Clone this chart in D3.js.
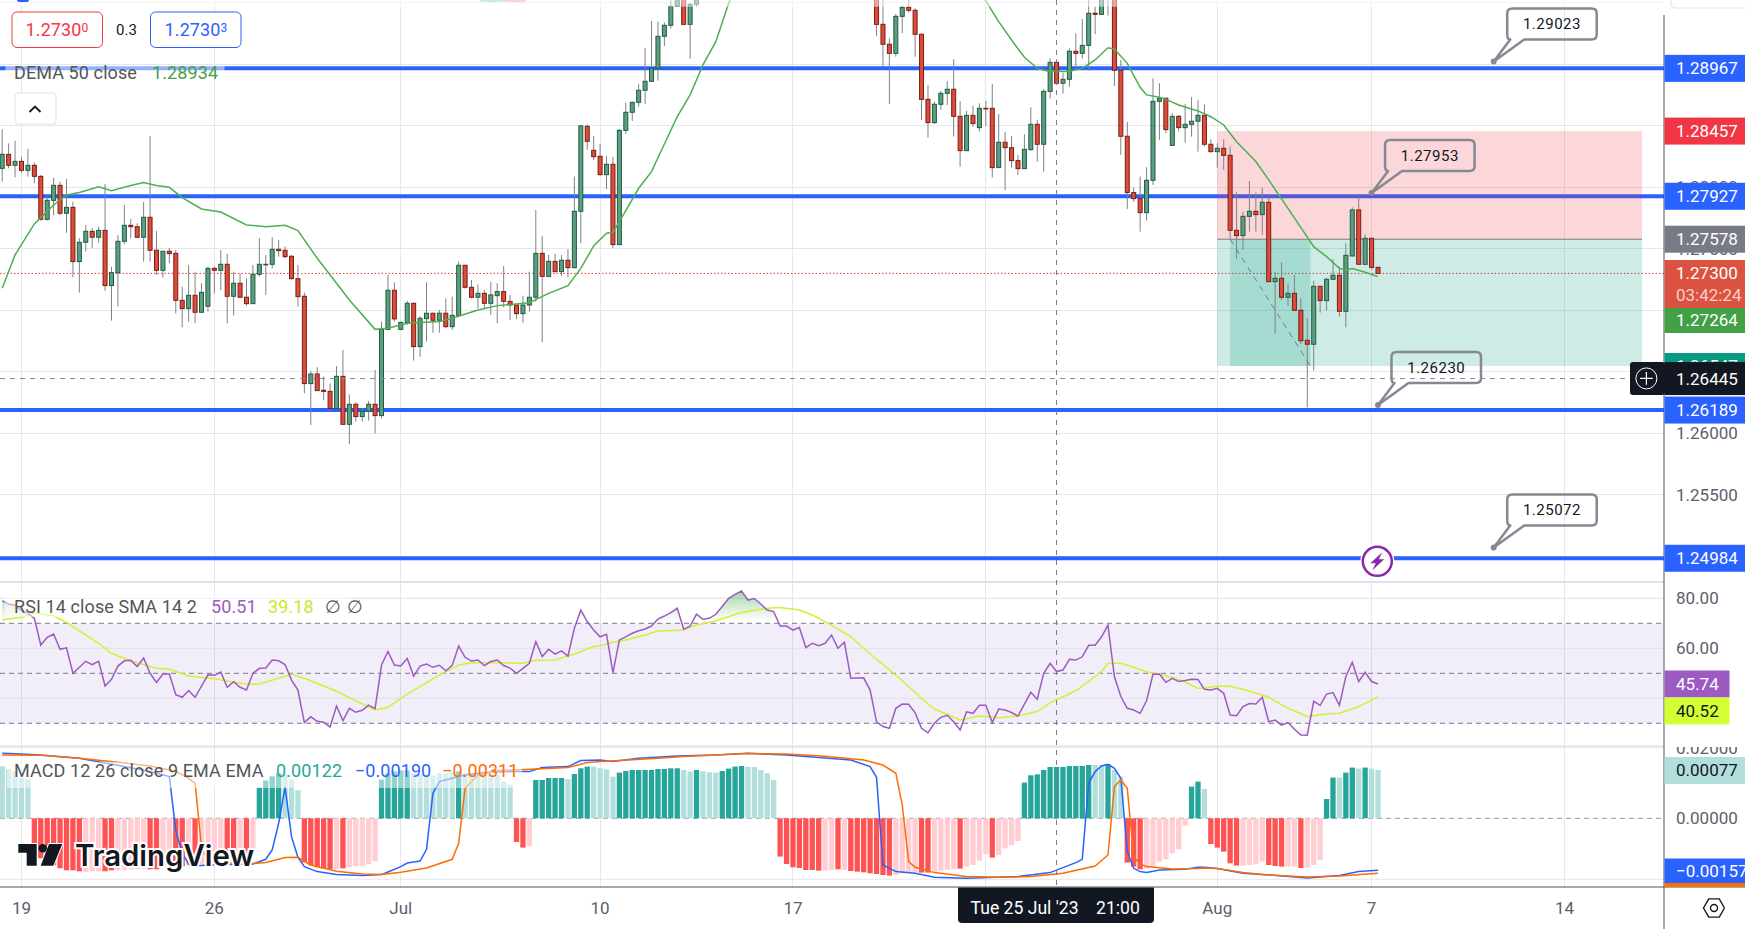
<!DOCTYPE html>
<html>
<head>
<meta charset="utf-8">
<title>GBPUSD 4h</title>
<script src="https://cdn.jsdelivr.net/npm/d3@7/dist/d3.min.js"></script>
<style>
  html, body { margin: 0; padding: 0; background: #fff; overflow: hidden; }
  svg { display: block; font-family: Roboto, "Liberation Sans", sans-serif; }
</style>
</head>
<body>
<div id="chart"></div>
<script>
// candles, one value per 4h bar. bars 109-135 sit above the visible range
var opens = [
  1.28154,1.28268,1.28179,1.28211,1.28138,1.28179,1.28089,1.27740,1.27894,1.28016,
  1.27789,1.27837,1.27396,1.27553,1.27642,1.27594,1.27650,1.27201,1.27306,1.27561,
  1.27691,1.27680,1.27594,1.27756,1.27488,1.27325,1.27480,1.27463,1.27081,1.27014,
  1.27122,1.26984,1.27033,1.27341,1.27325,1.27374,1.27114,1.27220,1.27106,1.27054,
  1.27293,1.27371,1.27374,1.27496,1.27488,1.27439,1.27257,1.27114,1.26404,1.26482,
  1.26350,1.26341,1.26201,1.26463,1.26073,1.26236,1.26136,1.26179,1.26236,1.26144,
  1.26845,1.27163,1.26845,1.26900,1.27057,1.26705,1.26932,1.26976,1.26919,1.26976,
  1.26867,1.26959,1.27366,1.27187,1.27106,1.27138,1.27057,1.27119,1.27152,1.27073,
  1.27043,1.26973,1.27043,1.27106,1.27463,1.27276,1.27398,1.27314,1.27407,1.27347,
  1.27805,1.28496,1.28301,1.28252,1.28103,1.28187,1.27534,1.28463,1.28610,1.28691,
  1.28789,1.28862,1.28967,1.29228,1.29317,1.29472,1.29550,1.29325,1.29488,
  1.29560,1.2965,1.2985,1.2990,1.3010,1.3025,1.3020,1.3035,1.3050,1.3070,1.3085,1.3105,1.3120,1.3125,
  1.3110,1.3095,1.3100,1.3080,1.3060,1.3040,1.3030,1.3045,1.3050,1.3030,1.3015,1.3000,1.2985,
  1.29560,1.29325,1.29163,1.29089,1.29390,1.29463,1.29439,1.29244,1.28715,1.28526,
  1.28675,1.28764,1.28797,1.28577,1.28298,1.28585,1.28485,1.28642,1.28642,1.28160,
  1.28366,1.28322,1.28217,1.28152,1.28306,1.28512,1.28350,1.28780,1.29016,1.28846,
  1.28878,1.29106,1.29089,1.29154,1.29415,1.29406,1.29560,1.29580,1.28951,1.28415,
  1.27957,1.27908,1.27794,1.28057,1.28699,1.28724,1.28341,1.28577,1.28485,1.28512,
  1.28537,1.28585,1.28350,1.28290,1.28317,1.28260,1.27650,1.27607,1.27764,1.27805,
  1.27778,1.27878,1.27233,1.27260,1.27106,1.27138,1.27000,1.26756,1.26724,1.27195,
  1.27079,1.27252,1.27284,1.26992,1.27442,1.27816,1.27374,1.27585,1.27349
];
var closes = [
  1.28268,1.28179,1.28211,1.28138,1.28179,1.28089,1.27740,1.27894,1.28016,1.27789,
  1.27837,1.27396,1.27553,1.27642,1.27594,1.27650,1.27201,1.27306,1.27561,1.27691,
  1.27680,1.27594,1.27756,1.27488,1.27325,1.27480,1.27461,1.27081,1.27014,1.27122,
  1.26984,1.27146,1.27341,1.27325,1.27374,1.27114,1.27220,1.27106,1.27054,1.27293,
  1.27374,1.27374,1.27496,1.27485,1.27436,1.27257,1.27111,1.26404,1.26482,1.26347,
  1.26341,1.26201,1.26463,1.26073,1.26236,1.26136,1.26179,1.26236,1.26144,1.26845,
  1.27163,1.26930,1.26902,1.27057,1.26705,1.26935,1.26976,1.26919,1.26976,1.26867,
  1.26959,1.27366,1.27187,1.27106,1.27138,1.27057,1.27125,1.27152,1.27073,1.27043,
  1.26973,1.27043,1.27106,1.27463,1.27276,1.27398,1.27314,1.27407,1.27347,1.27805,
  1.28499,1.28374,1.28249,1.28103,1.28187,1.27534,1.28463,1.28610,1.28691,1.28789,
  1.28862,1.28967,1.29228,1.29317,1.29472,1.29550,1.29325,1.29488,1.29560,
  1.2965,1.2985,1.2990,1.3010,1.3025,1.3020,1.3035,1.3050,1.3070,1.3085,1.3105,1.3120,1.3125,
  1.3110,1.3095,1.3100,1.3080,1.3060,1.3040,1.3030,1.3045,1.3050,1.3030,1.3015,1.3000,1.2985,1.2970,
  1.29325,1.29163,1.29089,1.29390,1.29463,1.29439,1.29244,1.28715,1.28526,1.28675,
  1.28764,1.28797,1.28577,1.28298,1.28585,1.28518,1.28642,1.28640,1.28160,1.28366,
  1.28322,1.28217,1.28152,1.28309,1.28512,1.28350,1.28780,1.29016,1.28846,1.28878,
  1.29106,1.29089,1.29154,1.29415,1.29406,1.29560,1.29590,1.28951,1.28415,1.27957,
  1.27908,1.27794,1.28057,1.28699,1.28724,1.28469,1.28577,1.28485,1.28512,1.28537,
  1.28585,1.28350,1.28290,1.28317,1.28260,1.27650,1.27607,1.27764,1.27805,1.27778,
  1.27878,1.27233,1.27260,1.27106,1.27138,1.27000,1.26753,1.26724,1.27195,1.27079,
  1.27252,1.27284,1.26992,1.27447,1.27816,1.27374,1.27585,1.27349,1.27300
];
var highs = [
  1.28472,1.28358,1.28377,1.28249,1.28312,1.28203,1.28100,1.27924,1.28076,1.28046,
  1.28068,1.27883,1.27585,1.27694,1.27667,1.27680,1.28027,1.27355,1.27610,1.27856,
  1.27743,1.27707,1.27881,1.28417,1.27645,1.27480,1.27507,1.27491,1.27192,1.27369,
  1.27314,1.27220,1.27355,1.27355,1.27491,1.27458,1.27314,1.27301,1.27260,1.27369,
  1.27585,1.27450,1.27594,1.27572,1.27518,1.27450,1.27369,1.27144,1.26507,1.26537,
  1.26461,1.26406,1.26547,1.26678,1.26317,1.26252,1.26203,1.26263,1.26515,1.26908,
  1.27287,1.27228,1.26908,1.27076,1.27062,1.26954,1.27228,1.26981,1.27003,1.27097,
  1.27111,1.27396,1.27369,1.27247,1.27211,1.27165,1.27230,1.27220,1.27360,1.27125,
  1.27043,1.27119,1.27314,1.27816,1.27604,1.27450,1.27458,1.27450,1.27496,1.28087,
  1.28504,1.28510,1.28417,1.28352,1.28255,1.28249,1.28472,1.28688,1.28696,1.28840,
  1.29133,1.29352,1.29347,1.29341,1.29523,1.29600,1.29600,1.29496,1.29620,
  1.2972,1.2992,1.2998,1.3018,1.3032,1.3030,1.3042,1.3058,1.3078,1.3092,1.3112,1.3128,1.3134,
  1.3128,1.3110,1.3108,1.3102,1.3085,1.3066,1.3048,1.3052,1.3058,1.3056,1.3038,1.3022,1.3006,1.2992,
  1.29600,1.29523,1.29211,1.29409,1.29482,1.29523,1.29455,1.29252,1.28832,1.28696,
  1.28786,1.28864,1.29041,1.28702,1.28621,1.28661,1.28683,1.28702,1.28840,1.28596,
  1.28450,1.28417,1.28263,1.28431,1.28650,1.28547,1.28797,1.29049,1.29041,1.28932,
  1.29130,1.29252,1.29369,1.29523,1.29469,1.29600,1.29650,1.29620,1.29035,1.28531,
  1.28000,1.28087,1.28163,1.28886,1.28846,1.28730,1.28602,1.28588,1.28677,1.28734,
  1.28710,1.28675,1.28390,1.28358,1.28390,1.28331,1.27959,1.27802,1.28051,1.27957,
  1.27997,1.27924,1.27314,1.27390,1.27220,1.27287,1.27097,1.26935,1.27241,1.27198,
  1.27265,1.27415,1.27355,1.27545,1.27837,1.27924,1.27618,1.27590,1.27355
];
var lows = [
  1.28046,1.28154,1.28081,1.28119,1.28087,1.28033,1.27729,1.27729,1.27772,1.27772,
  1.27631,1.27268,1.27144,1.27477,1.27504,1.27550,1.27160,1.26916,1.27030,1.27537,
  1.27585,1.27588,1.27396,1.27396,1.27287,1.27265,1.27382,1.26976,1.26862,1.26908,
  1.26894,1.26981,1.26989,1.27138,1.27165,1.26894,1.26957,1.27103,1.27038,1.27054,
  1.27274,1.27125,1.27341,1.27436,1.27423,1.27252,1.27030,1.26325,1.26068,1.26347,
  1.26271,1.26176,1.26195,1.26068,1.25913,1.26095,1.26095,1.26103,1.26000,1.26122,
  1.26840,1.26908,1.26840,1.26881,1.26591,1.26623,1.26745,1.26818,1.26818,1.26854,
  1.26840,1.26949,1.27176,1.27097,1.27016,1.27008,1.26962,1.26894,1.27024,1.26921,
  1.26927,1.26900,1.26989,1.27071,1.26740,1.27268,1.27309,1.27279,1.27268,1.27341,
  1.27545,1.28304,1.28222,1.28095,1.27986,1.27507,1.27530,1.28434,1.28539,1.28656,
  1.28677,1.28854,1.28867,1.29149,1.29290,1.29469,1.29322,1.29046,1.29469,
  1.2955,1.2960,1.2977,1.2982,1.3004,1.3008,1.3012,1.3028,1.3042,1.3064,1.3078,1.3098,1.3112,
  1.3102,1.3088,1.3086,1.3072,1.3052,1.3032,1.3022,1.3024,1.3038,1.3022,1.3008,1.2992,1.2978,1.2962,
  1.29230,1.28981,1.28677,1.29062,1.29252,1.29420,1.29062,1.28547,1.28404,1.28515,
  1.28629,1.28669,1.28412,1.28168,1.28298,1.28493,1.28453,1.28499,1.28079,1.28160,
  1.27978,1.28160,1.28100,1.28152,1.28298,1.28209,1.28127,1.28721,1.28832,1.28762,
  1.28818,1.28954,1.29046,1.28948,1.29244,1.29401,1.29396,1.28824,1.28263,1.27824,
  1.27883,1.27639,1.27729,1.28019,1.28385,1.28439,1.28339,1.28453,1.28363,1.28412,
  1.28290,1.28331,1.28282,1.28160,1.28141,1.27572,1.27417,1.27491,1.27639,1.27639,
  1.27612,1.27233,1.26813,1.27084,1.27035,1.26997,1.26726,1.26211,1.26510,1.26981,
  1.26997,1.27247,1.26949,1.26862,1.27436,1.27369,1.27369,1.27333,1.27298
];

// DEMA 50, read as turning points of the line
var demaBars = [0,2,5,8,10,12,15,17,20,22,24,26,28,31,34,38,41,44,46,49,52,54,58,60,63,68,70,74,77,82,85,88,
  90,92,94,95,97,99,101,103,105,107,109,111,113,116,120,130,140,148,153,155,157,159,161,163,166,168,170,172,173,175,177,178,180,
  181,183,186,188,190,192,195,197,200,204,206,208,209,210,212,214];
var demaValues = [1.27179,1.27450,1.27702,1.27856,1.27938,1.27957,1.28005,1.27973,1.28014,1.28038,1.28014,1.28000,1.27916,1.27824,1.27799,1.27694,1.27680,1.27691,1.27648,1.27423,1.27220,1.27084,1.26845,1.26854,1.26894,1.26908,1.26935,1.27003,1.27038,1.27062,1.27138,1.27201,
  1.27341,1.27523,1.27626,1.27634,1.27810,1.27992,1.28127,1.28352,1.28574,1.28751,1.28995,1.29184,1.29496,1.2990,1.3030,1.3060,1.3050,1.2990,1.29515,1.29347,1.29198,1.29057,1.28967,1.28940,1.28943,1.28967,1.29035,1.29135,1.29125,1.29008,1.28813,1.28751,1.28732,
  1.28715,1.28669,1.28621,1.28574,1.28507,1.28371,1.28209,1.28060,1.27829,1.27517,1.27436,1.27341,1.27328,1.27339,1.27309,1.27274];

// RSI 14, one value per bar
var rsiValues = [
  79.1,77.7,77.3,75.1,74,72,61.3,64.4,65.7,59.6,60.2,50,52.4,54.8,53.5,54.8,44.9,47.6,52.9,55,
  55.2,52.7,56.1,50,46.3,49.7,49.7,41.4,40.4,43.1,40.4,44.9,49.4,49.2,50.5,44.4,46.6,44.4,43.3,50,
  52,52.1,55.3,55,53.5,47.3,43.3,30.3,32.6,30.8,30.4,28.5,36.9,31.1,36,34.4,35.2,37.3,35.9,53.3,
  58.7,53.3,52.9,55.9,48.9,52.9,53.7,52.4,53.2,51,53.2,60.9,56.4,54.9,55.3,53.1,54.7,55.3,53.1,52.1,
  50,52,54,62.7,56.7,59.6,57.7,59,56.9,68,75.3,70.7,67.3,64.6,65.6,50.3,63.3,64.6,66,67,
  67.7,68.9,71.7,72.9,74.3,76,67.6,68.9,73.7,71.6,72,73.6,76.7,80,81.6,82.9,79.3,79.9,77.7,75.3,
  74.7,68.9,68.9,67.3,68.3,60.3,62,61,62,65.3,60,62.4,48,48.1,48.2,43.3,30.6,28.7,28,36,
  37.7,37.6,34.2,28,26.2,30,32.4,33.2,30.6,27.3,34.6,34,37.2,37.2,30.3,35.7,35.3,34.3,32.9,37.7,
  42.4,39.6,50,54,50.7,51.3,55.6,55.3,56.6,61.2,61.2,64.6,69.3,48.6,40.7,36,35.3,34,39,49.6,
  49.7,46.4,48,46.7,47.1,47.6,47.5,43.6,43.3,44,42,33.3,33,36.7,37.9,37.7,40.4,30.6,31.3,29.3,
  30.3,27.6,25.3,25.2,38.8,37.2,41.7,42.3,37.2,48.7,54.4,46.7,50.4,46.7,45.7
];

// RSI based SMA, turning points
var smaBars = [0,3,5,8,10,15,17,20,24,26,29,33,38,40,45,47,52,55,58,60,63,68,71,73,78,81,83,86,89,92,
  93,95,97,100,102,106,108,111,115,119,121,124,126,129,132,135,139,143,145,149,152,155,158,161,163,167,171,172,174,176,178,181,184,186,
  187,189,191,194,197,200,203,206,208,211,214];
var smaValues = [71.3,72.4,74,73,70.4,62,58,54.9,52,51.6,48.9,47.8,45.6,45.7,49.6,48,42.8,39,35.3,36.4,41.7,49.3,53.3,54.2,54.2,54,55.2,55.3,57.7,60.7,
  61,62.4,63.3,65.3,66.9,67.3,69.3,71,74.3,76,76.3,75.3,73.3,69.3,64.6,57.7,49.3,40,35.7,31.3,32.9,32.2,32.9,34.7,38.2,43,50.6,54,54,52.4,50.6,49,46.6,44,
  44,44.9,44.8,42.9,40.4,36,32.7,33.7,34,36.7,40.6];

// MACD histogram, one value per bar (the pane axis is not linear, these are pane units)
var histValues = [
  0.0052,0.00493,0.0047,0.00403,0.00393,
  -0.0035,-0.004,-0.0043,-0.0047,-0.005,-0.0052,-0.0052,-0.0053,
  -0.0054,-0.0053,-0.0053,-0.0053,-0.0052,-0.0052,-0.0052,-0.0051,-0.0051,-0.005,-0.0051,-0.0051,-0.005,-0.005,
  -0.0049,-0.0048,-0.0047,-0.0048,-0.0046,-0.0045,-0.0044,-0.0043,-0.0043,-0.0041,-0.0038,-0.0036,-0.003,
  0.00307,0.00377,0.0042,0.0045,0.0044,0.0039,0.0028,
  -0.0044,-0.0047,-0.0049,-0.005,-0.0051,-0.0051,-0.005,-0.0049,-0.0048,-0.0048,-0.0046,-0.0043,
  0.00387,0.0045,0.0047,0.0048,0.0048,0.0045,0.0044,0.0043,0.0043,0.0045,0.0045,0.0046,0.0047,0.0045,0.0045,0.0045,0.00447,0.0044,0.00437,0.0037,0.00337,
  -0.00237,-0.00293,-0.00277,
  0.00383,0.00383,0.00403,0.00403,0.00403,0.0039,0.00443,0.005,0.00517,0.00517,
  0.005,0.0049,0.00417,0.00457,0.00473,0.00483,0.00483,0.00483,0.00483,0.00493,0.00493,0.005,0.005,0.00483,0.00467,0.00483,0.0047,0.0046,0.00457,0.00473,0.00497,0.00517,0.00523,0.00513,0.00513,0.00483,0.0045,0.00383,
  -0.00383,-0.00457,-0.0049,-0.00497,-0.00517,-0.00517,-0.00523,-0.00523,-0.00517,-0.0051,-0.00517,-0.00527,-0.00533,-0.0054,-0.0055,-0.00557,-0.00567,-0.00573,-0.00567,-0.0055,-0.00543,-0.00543,-0.00543,-0.00543,-0.00533,-0.00523,-0.00517,-0.0051,-0.00503,-0.00483,-0.00467,-0.00423,-0.00357,-0.00393,-0.00367,-0.003,-0.00267,-0.00227,
  0.00357,0.0043,0.0044,0.00483,0.00513,0.00513,0.00513,0.00523,0.00523,0.00523,0.00533,0.00533,0.00533,0.0054,0.00483,0.00417,
  -0.00443,-0.00483,-0.0051,-0.00503,-0.00483,-0.00433,-0.0041,-0.0035,-0.0031,-0.00073,
  0.00317,0.00367,0.00293,
  -0.00257,-0.00293,-0.00333,-0.0045,-0.00473,-0.00473,-0.00467,-0.0046,-0.00433,-0.00467,-0.00477,-0.00483,-0.00483,-0.00483,-0.00497,-0.00493,-0.00467,-0.00417,
  0.00193,0.00407,0.00407,0.00457,0.00507,0.00497,0.00507,0.00497,0.00483
];
// bars drawn in the strong colour, all others are the pale one
var histStrong = [5,6,7,8,9,10,11,12,16,17,23,24,27,28,30,35,36,38,40,41,42,43,47,48,49,50,51,53,59,60,61,62,63,71,80,81,
  83,84,85,86,87,89,90,91,96,97,98,99,100,101,102,103,104,105,108,112,113,114,115,121,122,123,124,125,126,127,130,132,133,134,135,136,137,138,143,144,149,154,
  159,160,161,162,163,164,165,166,167,168,169,172,175,176,177,185,186,188,189,190,191,192,197,198,199,202,206,207,209,210,212];

var macdBars = [0,3,6,12,18,23,26,27,28,29,30,32,38,39,41,42,43,44,45,46,47,49,52,56,59,60,62,63,65,66,67,68,70,72,75,79,82,84,88,90,
  93,95,99,105,111,116,122,127,132,135,136,137,139,142,145,150,158,163,167,168,169,170,171,172,173,174,175,176,177,178,180,184,186,
  187,189,193,197,203,208,211,214];
var macdValues = [0.0065,0.00643,0.00633,0.006,0.0053,0.00467,0.00417,-0.00123,-0.0035,-0.00457,-0.00477,-0.00467,-0.00457,-0.00457,-0.0041,-0.00317,-0.0005,0.0031,-0.00183,-0.0039,-0.00483,-0.00533,-0.00563,-0.00573,-0.00563,-0.00537,-0.00483,-0.00447,-0.00427,-0.0031,0.0025,0.00367,0.004,0.00433,0.00457,0.00467,0.00467,0.00507,0.00517,0.00577,
  0.00583,0.00567,0.006,0.00623,0.00633,0.0065,0.00633,0.00607,0.00583,0.00517,0.0041,-0.00467,-0.00533,-0.0055,-0.0059,-0.006,-0.00583,-0.00543,-0.00443,-0.0041,0.0035,0.00467,0.00523,0.0054,0.005,0.004,-0.0033,-0.005,-0.00533,-0.00543,-0.00517,-0.0051,-0.0049,
  -0.0049,-0.00503,-0.0055,-0.00567,-0.00597,-0.00573,-0.00533,-0.0052];
var signalBars = [0,6,12,18,23,27,29,30,31,32,38,41,44,46,48,52,56,59,62,66,70,71,72,74,77,83,88,91,
  93,96,102,106,111,116,122,128,134,137,139,140,141,142,145,150,155,160,165,170,172,173,174,175,176,177,178,182,186,
  187,189,193,197,203,208,214];
var signalValues = [0.00633,0.0063,0.006,0.0056,0.00523,0.0047,0.004,0.0035,-0.00283,-0.00433,-0.00457,-0.00443,-0.00393,-0.0039,-0.00467,-0.0053,-0.00557,-0.00563,-0.0054,-0.00497,-0.0041,-0.0025,0.003,0.00433,0.00477,0.00493,0.00507,0.00557,
  0.00567,0.00577,0.006,0.00617,0.00633,0.00647,0.00643,0.0062,0.00583,0.00533,0.0045,0.00133,-0.00433,-0.0049,-0.00543,-0.00583,-0.0059,-0.00583,-0.0055,-0.00477,-0.00367,0.00317,0.00383,0.003,-0.00383,-0.00457,-0.00483,-0.00507,-0.00503,
  -0.00497,-0.00503,-0.00543,-0.00567,-0.00587,-0.00577,-0.0055];

// axis ticks and drawings
var gridBars = [3,33,62,93,123,153,189,213,243];
var timeBars = [3,33,62,93,123,189,213,243];
var timeLabels = ["19","26","Jul","10","17","Aug","7","14"];
var priceTicks = [1.295,1.29,1.285,1.28,1.275,1.27,1.265,1.26,1.255,1.25];
var priceLabels = [1.28,1.275,1.26,1.255];  // the others are fully under badges
var rsiTicks = [80,60,40];
var rsiLabels = [80,60];
var rsiDashes = [70,50,30];
var macdLabels = [0.02,0];
var blueLevels = [1.28967,1.27927,1.26189,1.24984];
var lastPrice = 1.273;
var crossPrice = 1.26445;
var crossBar = 164;
var positionBars = [189,222,201];     // left, right, end of the filled part
var positionPrices = [1.28457,1.27578,1.26547];
var positionEntryBar = 191;
var calloutBars = [232,213,214,232];
var calloutPrices = [1.29023,1.27953,1.2623,1.25072];

// price axis badges
var priceBadges = [
  {text: "1.28967", value: 1.28967, fill: "#2962ff", color: "#fff"},
  {text: "1.28457", value: 1.28457, fill: "#f23645", color: "#fff"},
  {text: "1.27927", value: 1.27927, fill: "#2962ff", color: "#fff"},
  {text: "1.27578", value: 1.27578, fill: "#787b86", color: "#fff"},
  {text: "1.26189", value: 1.26189, fill: "#2962ff", color: "#fff"},
  {text: "1.24984", value: 1.24984, fill: "#2962ff", color: "#fff"}
];

var width = 1745, height = 929;
var axisX = 1664;
var grey = "#5d606b";
var fontSize = 17;

var svg = d3.select("#chart").append("svg").attr("width", width).attr("height", height);
var defs = svg.append("defs");

function addClip(id, x, y, w, h) {
  defs.append("clipPath").attr("id", id).append("rect")
    .attr("x", x).attr("y", y).attr("width", w).attr("height", h);
}
addClip("clip-main", 0, 0, axisX, 581);
addClip("clip-rsi", 0, 583, axisX, 162);
addClip("clip-macd", 0, 747, axisX, 140);
addClip("clip-macd-axis", axisX, 747, 81, 140);

var x = d3.scaleLinear().domain([0, 214]).range([2.2, 1378]);
var yPrice = d3.scaleLinear().domain([1.26, 1.29]).range([433.3, 64.3]);
var yRsi = d3.scaleLinear().domain([80, 30]).range([598.3, 723.3]);
var yMacd = d3.scaleLinear().domain([0, 0.005]).range([818.3, 768.3]);
var yMacdTick = d3.scaleLinear().domain([-0.02, 0, 0.02]).range([879.3, 818.3, 747.7]);

function hLine(g, y, color, x2) {
  return g.append("line").attr("x1", 0).attr("x2", x2 === undefined ? axisX : x2)
    .attr("y1", y).attr("y2", y).attr("stroke", color).attr("stroke-width", 1);
}

function label(g, px, py, text, color, size, anchor) {
  return g.append("text").attr("x", px).attr("y", py).attr("dy", "0.35em")
    .attr("fill", color).attr("font-size", size || fontSize)
    .attr("text-anchor", anchor || "start").text(text);
}

function knotLine(bars, values, yScale) {
  var points = bars.map(function(b, i) { return [x(b), yScale(values[i])]; });
  return d3.line()(points);
}

// ---- grid
var grid = svg.append("g").attr("shape-rendering", "crispEdges");
gridBars.forEach(function(b) {
  grid.append("line").attr("x1", x(b)).attr("x2", x(b)).attr("y1", 0).attr("y2", 887)
    .attr("stroke", "#e6e7ea").attr("stroke-width", 1);
});
priceTicks.forEach(function(p) { hLine(grid, yPrice(p), "#e6e7ea"); });

// ---- main pane
var main = svg.append("g").attr("clip-path", "url(#clip-main)");

main.selectAll(".level").data(blueLevels).enter().append("line")
  .attr("class", "level").attr("x1", 0).attr("x2", axisX)
  .attr("y1", function(d) { return yPrice(d); }).attr("y2", function(d) { return yPrice(d); })
  .attr("stroke", "#2962ff").attr("stroke-width", 4);

hLine(main, yPrice(lastPrice), "#e53935").attr("stroke-dasharray", "1.5 2");

// long/short position box
var boxLeft = x(positionBars[0]), boxRight = 1642;
main.append("rect").attr("x", boxLeft).attr("y", yPrice(positionPrices[0]))
  .attr("width", boxRight - boxLeft).attr("height", yPrice(positionPrices[1]) - yPrice(positionPrices[0]))
  .attr("fill", "#f23645").attr("fill-opacity", 0.2);
main.append("rect").attr("x", boxLeft).attr("y", yPrice(positionPrices[1]))
  .attr("width", boxRight - boxLeft).attr("height", yPrice(positionPrices[2]) - yPrice(positionPrices[1]))
  .attr("fill", "#089981").attr("fill-opacity", 0.2);
main.append("rect").attr("x", x(positionEntryBar)).attr("y", yPrice(positionPrices[1]))
  .attr("width", x(positionBars[2] + 2.5) - x(positionEntryBar)).attr("height", yPrice(positionPrices[2]) - yPrice(positionPrices[1]))
  .attr("fill", "#089981").attr("fill-opacity", 0.2);
main.append("line").attr("x1", boxLeft).attr("x2", boxRight)
  .attr("y1", yPrice(positionPrices[1])).attr("y2", yPrice(positionPrices[1]))
  .attr("stroke", "#787b86").attr("stroke-width", 1);
main.append("line").attr("x1", x(positionEntryBar)).attr("x2", x(positionBars[2] + 2.5))
  .attr("y1", yPrice(positionPrices[1])).attr("y2", yPrice(positionPrices[2]))
  .attr("stroke", "#787b86").attr("stroke-width", 1).attr("stroke-dasharray", "6 5");

// candles
var candles = d3.range(opens.length).map(function(i) {
  return {i: i, o: opens[i], h: highs[i], l: lows[i], c: closes[i]};
});
var candleG = main.append("g");
candleG.selectAll(".wick").data(candles).enter().append("line")
  .attr("class", "wick")
  .attr("x1", function(d) { return x(d.i); }).attr("x2", function(d) { return x(d.i); })
  .attr("y1", function(d) { return yPrice(d.h); }).attr("y2", function(d) { return yPrice(d.l); })
  .attr("stroke", "#7f8284").attr("stroke-width", 1);
candleG.selectAll(".body").data(candles).enter().append("rect")
  .attr("class", "body")
  .attr("x", function(d) { return x(d.i) - 2; }).attr("width", 4)
  .attr("y", function(d) { return yPrice(Math.max(d.o, d.c)); })
  .attr("height", function(d) { return Math.max(Math.abs(yPrice(d.o) - yPrice(d.c)), 0.6); })
  .attr("fill", function(d) { return d.c >= d.o ? "#5d9e7e" : "#dc4c3c"; })
  .attr("stroke", function(d) { return d.c >= d.o ? "#1d5c44" : "#7b1c14"; })
  .attr("stroke-width", 1);

main.append("path").attr("d", knotLine(demaBars, demaValues, yPrice))
  .attr("fill", "none").attr("stroke", "#4caf50").attr("stroke-width", 1.5);

// top fade under the toolbar
main.append("rect").attr("x", 0).attr("y", 0).attr("width", axisX).attr("height", 6.7)
  .attr("fill", "#fff").attr("fill-opacity", 0.5);
// bottoms of the cut-off toolbar icons
main.append("rect").attr("x", 17).attr("y", -3).attr("width", 12).attr("height", 5).attr("rx", 2).attr("fill", "#2962ff");
main.append("rect").attr("x", 480).attr("y", -3).attr("width", 24).attr("height", 5).attr("rx", 2).attr("fill", "#cfe9e2");
main.append("rect").attr("x", 504).attr("y", -3).attr("width", 22).attr("height", 5).attr("rx", 2).attr("fill", "#fbd3d6");

// balloons with the swing prices
function drawCallout(bar, price) {
  var px = x(bar), py = yPrice(price);
  var bx = px + 13.5, by = py - 53, bw = 89.5, bh = 31, r = 5;
  var path = "M" + (bx + r) + "," + by + "H" + (bx + bw - r) + "Q" + (bx + bw) + "," + by + " " + (bx + bw) + "," + (by + r) +
    "V" + (by + bh - r) + "Q" + (bx + bw) + "," + (by + bh) + " " + (bx + bw - r) + "," + (by + bh) +
    "H" + (bx + 17) + "L" + px + "," + py + "L" + (bx + 3) + "," + (by + bh) +
    "Q" + bx + "," + (by + bh) + " " + bx + "," + (by + bh - r) + "V" + (by + r) + "Q" + bx + "," + by + " " + (bx + r) + "," + by + "Z";
  main.append("path").attr("d", path).attr("fill", "none")
    .attr("stroke", "#868993").attr("stroke-width", 2.5).attr("stroke-linejoin", "round");
  main.append("circle").attr("cx", px).attr("cy", py).attr("r", 3).attr("fill", "#868993");
  label(main, bx + bw / 2, by + 15.5, price.toFixed(5), "#131722", 15, "middle").attr("letter-spacing", "0.5");
}
calloutBars.forEach(function(b, i) { drawCallout(b, calloutPrices[i]); });

// crosshair horizontal
hLine(main, yPrice(crossPrice), "#868993", 1630).attr("stroke-dasharray", "5 5");

// lightning marker on the last bar
var bolt = main.append("g").attr("transform", "translate(1377.3,561.3)");
bolt.append("circle").attr("r", 17).attr("fill", "#fff");
bolt.append("circle").attr("r", 14.5).attr("fill", "#fff").attr("stroke", "#8e24aa").attr("stroke-width", 2.5);
bolt.append("path").attr("d", "M5,-9 L-7,2 L-1.5,2 L-5,9 L7,-2 L1.5,-2 Z").attr("fill", "#8e24aa");

// ---- RSI pane
svg.append("line").attr("x1", 0).attr("x2", width).attr("y1", 582).attr("y2", 582)
  .attr("stroke", "#e0e3eb").attr("stroke-width", 2);
var rsi = svg.append("g").attr("clip-path", "url(#clip-rsi)");
rsi.append("rect").attr("x", 0).attr("width", axisX).attr("y", yRsi(70)).attr("height", yRsi(30) - yRsi(70))
  .attr("fill", "#7e57c2").attr("fill-opacity", 0.1);
rsiTicks.forEach(function(t) { hLine(rsi, yRsi(t), "#e0e0e6"); });
rsiDashes.forEach(function(t) {
  hLine(rsi, yRsi(t), "#787b86").attr("stroke-dasharray", "5 4");
});

// overbought and oversold fills fade towards the 70 and 30 lines
var gradUp = defs.append("linearGradient").attr("id", "rsi-up").attr("gradientUnits", "userSpaceOnUse")
  .attr("x1", 0).attr("x2", 0).attr("y1", yRsi(83)).attr("y2", yRsi(71));
gradUp.append("stop").attr("offset", 0).attr("stop-color", "#4caf50").attr("stop-opacity", 0.5);
gradUp.append("stop").attr("offset", 1).attr("stop-color", "#4caf50").attr("stop-opacity", 0);
var gradDown = defs.append("linearGradient").attr("id", "rsi-down").attr("gradientUnits", "userSpaceOnUse")
  .attr("x1", 0).attr("x2", 0).attr("y1", yRsi(30)).attr("y2", yRsi(25));
gradDown.append("stop").attr("offset", 0).attr("stop-color", "#9e9e9e").attr("stop-opacity", 0);
gradDown.append("stop").attr("offset", 1).attr("stop-color", "#9e9e9e").attr("stop-opacity", 0.2);
addClip("clip-rsi-up", 0, 583, axisX, yRsi(70) - 583);
addClip("clip-rsi-down", 0, yRsi(30), axisX, 745 - yRsi(30));
var rsiBars = d3.range(rsiValues.length);
rsi.append("path").attr("clip-path", "url(#clip-rsi-up)")
  .attr("d", d3.area().x(function(i) { return x(i); }).y0(yRsi(70)).y1(function(i) { return yRsi(rsiValues[i]); })(rsiBars))
  .attr("fill", "url(#rsi-up)");
rsi.append("path").attr("clip-path", "url(#clip-rsi-down)")
  .attr("d", d3.area().x(function(i) { return x(i); }).y0(yRsi(30)).y1(function(i) { return yRsi(rsiValues[i]); })(rsiBars))
  .attr("fill", "url(#rsi-down)");

rsi.append("path").attr("d", knotLine(smaBars, smaValues, yRsi))
  .attr("fill", "none").attr("stroke", "#d4f032").attr("stroke-width", 1.5);
rsi.append("path").attr("d", knotLine(rsiBars, rsiValues, yRsi))
  .attr("fill", "none").attr("stroke", "#9c5bc0").attr("stroke-width", 1.5);

// ---- MACD pane
svg.append("line").attr("x1", 0).attr("x2", width).attr("y1", 746).attr("y2", 746)
  .attr("stroke", "#e0e3eb").attr("stroke-width", 1.5);
var macd = svg.append("g").attr("clip-path", "url(#clip-macd)");
hLine(macd, yMacdTick(0.02), "#e6e7ea");
hLine(macd, yMacdTick(-0.02), "#e6e7ea");
hLine(macd, yMacdTick(0), "#9598a1").attr("stroke-dasharray", "5 4");

macd.selectAll(".hist").data(histValues).enter().append("rect")
  .attr("class", "hist")
  .attr("x", function(d, i) { return x(i) - 2.65; }).attr("width", 5.3)
  .attr("y", function(d) { return d > 0 ? yMacd(d) : yMacd(0); })
  .attr("height", function(d) { return Math.abs(yMacd(d) - yMacd(0)); })
  .attr("fill", function(d, i) {
    var strong = histStrong.indexOf(i) >= 0;
    if (d > 0) return strong ? "#26a69a" : "#b2dfdb";
    return strong ? "#ff5252" : "#ffcdd2";
  });

macd.append("path").attr("d", knotLine(macdBars, macdValues, yMacd))
  .attr("fill", "none").attr("stroke", "#2962ff").attr("stroke-width", 1.5);
macd.append("path").attr("d", knotLine(signalBars, signalValues, yMacd))
  .attr("fill", "none").attr("stroke", "#ff6d00").attr("stroke-width", 1.5);

// ---- crosshair vertical
svg.append("line").attr("x1", x(crossBar)).attr("x2", x(crossBar)).attr("y1", 0).attr("y2", 887)
  .attr("stroke", "#787b86").attr("stroke-width", 1).attr("stroke-dasharray", "5 5");

// ---- legends
var legend = svg.append("g").attr("letter-spacing", "0.1");
function legendBack(x0, y0, w, h) {
  legend.append("rect").attr("x", x0).attr("y", y0).attr("width", w).attr("height", h)
    .attr("fill", "#fff").attr("fill-opacity", 0.5);
}

legend.append("rect").attr("x", 12).attr("y", 12).attr("width", 90.5).attr("height", 35.5).attr("rx", 5)
  .attr("fill", "#fff").attr("stroke", "#f23645");
legend.append("rect").attr("x", 150.5).attr("y", 12).attr("width", 90.5).attr("height", 35.5).attr("rx", 5)
  .attr("fill", "#fff").attr("stroke", "#2962ff");
var sellText = label(legend, 57, 30, "1.2730", "#f23645", 18, "middle");
sellText.append("tspan").attr("font-size", 12).attr("dy", -4).text("0");
var buyText = label(legend, 196, 30, "1.2730", "#2962ff", 18, "middle");
buyText.append("tspan").attr("font-size", 12).attr("dy", -4).text("3");
label(legend, 126.5, 30, "0.3", "#131722", 15, "middle");

legendBack(5.5, 66, 219, 13);
label(legend, 14, 72.7, "DEMA 50 close", "#555", 18);
label(legend, 152, 72.7, "1.28934", "#43a047", 18);

legend.append("rect").attr("x", 15).attr("y", 93).attr("width", 41).attr("height", 31).attr("rx", 3)
  .attr("fill", "#fff").attr("stroke", "#e0e3eb");
legend.append("path").attr("d", "M29.5,112 L35,106.5 L40.5,112").attr("fill", "none")
  .attr("stroke", "#131722").attr("stroke-width", 1.8);

legendBack(5, 595, 345, 22);
label(legend, 14, 607, "RSI 14 close SMA 14 2", "#555", 18);
label(legend, 211, 607, "50.51", "#9c5bc0", 18);
label(legend, 268, 607, "39.18", "#cde62f", 18);
label(legend, 325, 607, "∅", "#555", 18);
label(legend, 347, 607, "∅", "#555", 18);

legendBack(7, 762, 515, 26);
label(legend, 14, 770.7, "MACD 12 26 close 9 EMA EMA", "#555", 18);
label(legend, 276, 770.7, "0.00122", "#26a69a", 18);
label(legend, 354.8, 770.7, "−0.00190", "#2962ff", 18);
label(legend, 442, 770.7, "−0.00311", "#ff6d00", 18);

// ---- logo
var logo = svg.append("g");
logo.append("path").attr("d", "M18.3,844 H36.7 V865.7 H26.7 V852.7 H18.3 Z M49,844 H62.3 L53.3,865.7 H40.7 Z")
  .attr("fill", "#131722").attr("stroke", "#fff").attr("stroke-width", 2).attr("paint-order", "stroke");
logo.append("circle").attr("cx", 42.7).attr("cy", 848.3).attr("r", 4.3).attr("fill", "#131722");
logo.append("text").attr("x", 75).attr("y", 865.7).attr("font-family", "Inter, Roboto, sans-serif")
  .attr("font-weight", 600).attr("font-size", 29.4).attr("fill", "#131722")
  .attr("stroke", "#fff").attr("stroke-width", 4).attr("paint-order", "stroke").text("TradingView");

// ---- axes
svg.append("rect").attr("x", axisX).attr("y", 0).attr("width", width - axisX).attr("height", height).attr("fill", "#fff");
svg.append("line").attr("x1", axisX).attr("x2", axisX).attr("y1", 15).attr("y2", height)
  .attr("stroke", "#50535e").attr("stroke-width", 1);
svg.append("line").attr("x1", 0).attr("x2", width).attr("y1", 887).attr("y2", 887)
  .attr("stroke", "#50535e").attr("stroke-width", 1);
svg.append("rect").attr("x", 1671).attr("y", -10).attr("width", 80).attr("height", 18).attr("rx", 4)
  .attr("fill", "none").attr("stroke", "#e0e3eb");

var rightAxis = svg.append("g");
var priceLabelX = 1676;
priceLabels.forEach(function(p) { label(rightAxis, priceLabelX, yPrice(p), p.toFixed(5), grey); });
rsiLabels.forEach(function(t) { label(rightAxis, priceLabelX, yRsi(t), t.toFixed(2), grey); });
var macdAxis = rightAxis.append("g").attr("clip-path", "url(#clip-macd-axis)");
macdLabels.forEach(function(t) { label(macdAxis, priceLabelX, yMacdTick(t), t.toFixed(5), grey); });

function badge(py, h, text, fill, color, w) {
  rightAxis.append("rect").attr("x", axisX + 0.5).attr("y", py - h / 2)
    .attr("width", w || width - axisX).attr("height", h).attr("fill", fill);
  return label(rightAxis, priceLabelX, py, text, color);
}

// sits under the crosshair label, only its top shows
badge(366.5, 27, "1.26547", "#089981", "#fff");
priceBadges.forEach(function(b) { badge(yPrice(b.value), 27, b.text, b.fill, b.color); });

// last price with countdown
rightAxis.append("rect").attr("x", axisX + 0.5).attr("y", 260).attr("width", width - axisX).attr("height", 48).attr("fill", "#db5340");
label(rightAxis, priceLabelX, 273.3, "1.27300", "#fff");
label(rightAxis, priceLabelX, 294.7, "03:42:24", "#f7cfc8");
// DEMA value is pushed below the countdown
badge(320.5, 25, "1.27264", "#43a047", "#fff");

// crosshair price and plus button
rightAxis.append("rect").attr("x", 1630).attr("y", 362).attr("width", 35).attr("height", 33).attr("rx", 3).attr("fill", "#131722");
rightAxis.append("circle").attr("cx", 1646.4).attr("cy", 378.4).attr("r", 10.5).attr("fill", "none").attr("stroke", "#fff");
rightAxis.append("path").attr("d", "M1646.4,372 V384.8 M1640,378.4 H1652.8").attr("stroke", "#fff").attr("stroke-width", 1.2);
badge(yPrice(crossPrice), 33, "1.26445", "#131722", "#fff");

// RSI and MACD last values
badge(684, 27, "45.74", "#9c5bc0", "#fff", 65);
badge(711, 27, "40.52", "#d4ff33", "#131722", 65);
badge(770.5, 27, "0.00077", "#b2dfdb", "#131722");
badge(871, 25, "−0.00157", "#2962ff", "#fff");
rightAxis.append("rect").attr("x", axisX + 0.5).attr("y", 883).attr("width", width - axisX).attr("height", 4).attr("fill", "#ff6d00");

// time axis
var timeAxis = svg.append("g");
timeBars.forEach(function(b, i) {
  label(timeAxis, x(b), 908, timeLabels[i], grey, fontSize, "middle");
});
timeAxis.append("path").attr("d", "M958,887.5 H1154 V919 Q1154,923 1150,923 H962 Q958,923 958,919 Z").attr("fill", "#131722");
label(timeAxis, 970.5, 908, "Tue 25 Jul '23", "#fff", 17.6);
label(timeAxis, 1096, 908, "21:00", "#fff", 17.6);

// settings icon
var gear = svg.append("g").attr("transform", "translate(1714,908)");
gear.append("path").attr("d", d3.line()(d3.range(7).map(function(k) {
  return [10.5 * Math.cos(k * Math.PI / 3), 10.5 * Math.sin(k * Math.PI / 3)];
}))).attr("fill", "none").attr("stroke", "#131722").attr("stroke-width", 1.4);
gear.append("circle").attr("r", 3.5).attr("fill", "none").attr("stroke", "#131722").attr("stroke-width", 1.4);
</script>
</body>
</html>
